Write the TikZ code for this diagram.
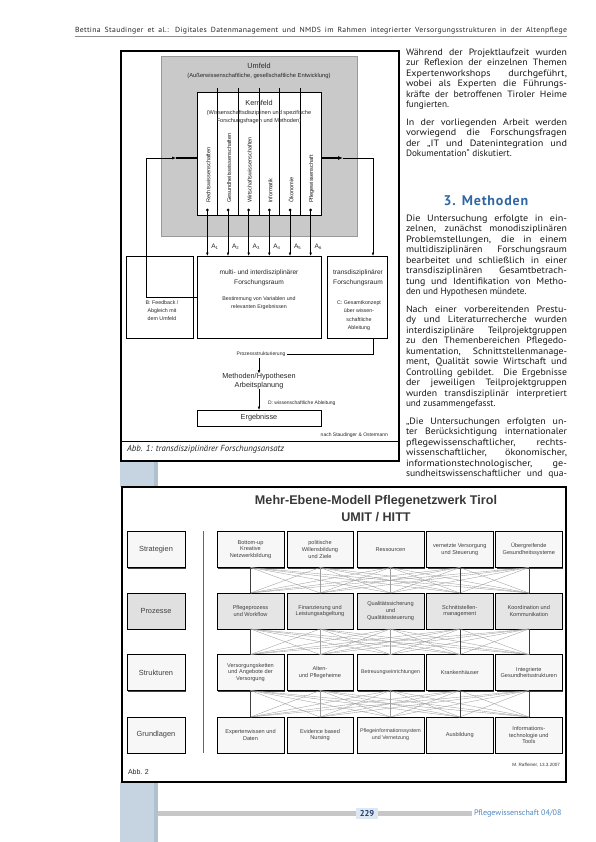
\documentclass[tikz,border=0pt]{standalone}
\usepackage{fontspec}
\usepackage{graphicx}
\setmainfont{Liberation Sans}
\newfontfamily\ptsans{PT Sans}
\usetikzlibrary{arrows.meta,shadows}
\definecolor{headblue}{HTML}{2F67A3}
\definecolor{footblue}{HTML}{4F86C0}
\definecolor{navy}{HTML}{1E3C6E}
\definecolor{stripc}{HTML}{C6D4E1}
\definecolor{stripd}{HTML}{AFC0D0}
\definecolor{pagebg}{HTML}{DDE8F2}
\newcommand\fsz[2]{\fontsize{#1}{#2}\selectfont}
\newsavebox\lnbox
\newlength\lnw
\newcommand\JT[2]{\sbox\lnbox{#2}\setlength\lnw{\wd\lnbox}%
  \ifdim\lnw<#1\relax\setlength\lnw{\dimexpr(\lnw+#1)/2\relax}\fi
  \resizebox{#1}{\height}{\makebox[\lnw][s]{#2}}}
\newcounter{lnc}
\newcommand\JL[2]{\stepcounter{lnc}\node[coltxt] (ln\arabic{lnc}) at (406,#1) {\JT{161pt}{#2}};}
\newcommand\LL[2]{\stepcounter{lnc}\node[coltxt] (ln\arabic{lnc}) at (406,#1) {#2};}
\newcommand\Asub[1]{A\raisebox{-0.8pt}{\fsz{4.2}{4.2}#1}}
\begin{document}
\begin{tikzpicture}[x=1pt,y=-1pt,
  every node/.style={inner sep=0pt,outer sep=0pt},
  coltxt/.style={anchor=base west, font=\ptsans\fsz{9.2}{10.4}, text=black!90},
  t5/.style={font=\fsz{5.3}{7.8}, align=center, text=black!85},
  t6/.style={font=\fsz{6.6}{10}, align=center, text=black!85},
  t7/.style={font=\fsz{7.3}{9}, align=center, text=black!85},
  bx/.style={draw=black, line width=0.6pt, fill=white},
  arr/.style={-{Latex[length=3.5pt,width=2.6pt]}, line width=0.5pt},
  box2/.style={draw=black, line width=0.5pt, fill=#1,
    drop shadow={shadow xshift=1.2pt, shadow yshift=-1.2pt, fill=black!75, opacity=1},
    align=center, font=\fsz{5.6}{6.8}, text=black!75,
    minimum width=66.5pt, minimum height=36pt},
  box2/.default=white,
  latt/.style={black!38, line width=0.35pt},
  lattv/.style={black!75, line width=0.5pt}
]
\useasboundingbox (0,0) rectangle (595,842);
\fill[white] (0,0) rectangle (595,842);

% ---------- header ----------
\node[anchor=base west, font=\ptsans\addfontfeature{LetterSpace=4}\fsz{7.4}{8}, text=black!85] (hdr) at (75,33)
  {\JT{492pt}{Bettina Staudinger et al.: Digitales Datenmanagement und NMDS im Rahmen integrierter Versorgungsstrukturen in der Altenpflege}};
\draw[black!45, line width=0.3pt] (75,36) -- (567,36);

% ---------- left strip ----------
\fill[stripc] (120,461) rectangle (158,487);
\fill[stripd] (154,461) rectangle (158,487);
\fill[stripc] (120,782) rectangle (158,842);
\fill[stripd] (154,782) rectangle (158,842);

% ---------- Figure 1 ----------
\draw[line width=1.8pt] (121,51) rectangle (399,461);
\draw[fill=black!21, draw=black!40, line width=0.5pt] (161,56) rectangle (357,236);
\node[t7] (umf) at (259,66) {Umfeld};
\node[font=\fsz{5.8}{6}, text=black!85] (umfs) at (259,76) {(Außerwissenschaftliche, gesellschaftliche Entwicklung)};
\node[bx, minimum width=124pt, minimum height=123pt] (kern) at (259,153.5) {};
\foreach \i in {1,...,5} \draw[line width=0.6pt] ({197+20.667*\i},88) -- ({197+20.667*\i},215);
\node[t7] (kt) at (259,103) {Kernfeld};
\node[font=\fsz{5.6}{8}, align=center, text=black!85] (kts) at (259,117) {(Wissenschaftsdisziplinen und spezifische\\Forschungsfragen und Methoden)};
\foreach \t [count=\i] in {Rechtswissenschaften, Gesundheitswissenschaften, Wirtschaftswissenschaften, Informatik, Ökonomie, Pflegewissenschaft}
  \node[font=\fsz{5.6}{6}, rotate=90, anchor=west, text=black!90] (cl\i) at ({197+20.667*(\i-0.5)+1},203) {\t};
\foreach \i in {1,...,6}
  \node[circle, fill=black, minimum size=3pt] (d\i) at ({197+20.667*(\i-0.5)},210) {};

\node[bx, minimum width=67pt, minimum height=82pt] (bb) at (159.5,297) {};
\node[bx, minimum width=124pt, minimum height=82pt] (multi) at (259,297) {};
\node[bx, minimum width=60pt, minimum height=82pt] (trans) at (357,297) {};

\foreach \i in {1,...,6} {
  \draw[arr] (d\i) -- (d\i |- multi.north);
  \node[font=\fsz{6.5}{7}, text=black!85, anchor=west] (a\i) at ({197+20.667*(\i-0.5)+4},247) {\Asub{\i}};
}

\node[t6] (mt) at (259,278) {multi- und interdisziplinärer\\Forschungsraum};
\node[t5] (mt2) at (259,303) {Bestimmung von Variablen und\\relevanten Ergebnissen};
\node[t6] (tt) at (358,278) {transdisziplinärer\\Forschungsraum};
\node[t5, font=\fsz{5.3}{8.3}] (tt2) at (359,315.5) {C: Gesamtkonzept\\über wissen-\\schaftliche\\Ableitung};
\node[t5, font=\fsz{5.3}{8}] (bt) at (162,311) {B: Feedback /\\Abgleich mit\\dem Umfeld};

\coordinate (fbL) at (146,158);
\coordinate (fbLm) at (176,158);
\draw[line width=0.5pt, -{Latex[length=4pt,width=3pt]}] (multi.west) -| (fbL) -- (fbLm);
\draw[line width=1.3pt] (fbLm) -- (fbLm -| kern.west);
\coordinate (fbR) at (373,158);
\coordinate (fbRm) at (343,158);
\draw[line width=1.3pt, -{Latex[length=5pt,width=4pt]}] (kern.east |- fbR) -- (fbRm);
\draw[arr] (fbRm) -- (fbR) -- (fbR |- trans.north);

\node[font=\fsz{5}{6}, text=black!85, inner sep=1.5pt] (proz) at (261,354) {Prozessstrukturierung};
\draw[line width=0.5pt] (fbR |- trans.south) |- (proz.east);
\node[t7] (meth) at (259,381.5) {Methoden/Hypothesen\\Arbeitsplanung};
\draw[arr] (meth.north |- proz.south) -- (meth.north);
\node[bx, minimum width=124pt, minimum height=16pt, font=\fsz{7.3}{8}, text=black!85] (erg) at (259,418) {Ergebnisse};
\draw[arr] (meth.south) -- (erg.north);
\node[font=\fsz{5}{6}, anchor=west, text=black!85] (dl) at (268,403) {D: wissenschaftliche Ableitung};
\node[font=\fsz{5}{6}, anchor=east, text=black!85] (nach) at (388,435) {nach Staudinger \& Ostermann};
\draw[line width=0.5pt] (121,441) -- (399,441);
\node[anchor=west, font=\ptsans\itshape\fsz{8.8}{9}, text=black!85] (cap1) at (127,449.5) {Abb. 1: transdisziplinärer Forschungsansatz};

% ---------- Figure 2 ----------
\draw[line width=1.8pt] (122,487) rectangle (566,782);
\node[font=\bfseries\fsz{12.6}{14}, text=black!78] (ti1) at (376,501) {Mehr-Ebene-Modell Pflegenetzwerk Tirol};
\node[font=\bfseries\fsz{12.6}{14}, text=black!78] (ti2) at (376,517) {UMIT / HITT};

\foreach \t/\y/\f [count=\i] in {Strategien/549.5/black!3, Prozesse/611/black!12, Strukturen/672.5/black!3, Grundlagen/735/black!3}
  \node[box2=\f, minimum width=58pt, font=\fsz{7.4}{8}] (lab\i) at (156,\y) {\t};
\draw[black!60, line width=0.7pt] (203,531) -- (203,753);

% row 1
\node[box2=black!3] (b1-1) at (250.5,549.5) {Bottom-up\\Kreative\\Netzwerkbildung};
\node[box2=black!3] (b1-2) at (320,549.5) {politische\\Willensbildung\\und Ziele};
\node[box2=black!3] (b1-3) at (390.5,549.5) {Ressourcen};
\node[box2=black!3] (b1-4) at (459.8,549.5) {vernetzte Versorgung\\und Steuerung};
\node[box2=black!3] (b1-5) at (528.8,549.5) {Übergreifende\\Gesundheitssysteme};
% row 2
\node[box2=black!10] (b2-1) at (250.5,611) {Pflegeprozess\\und Workflow};
\node[box2=black!10] (b2-2) at (320,611) {Finanzierung und\\Leistungsabgeltung};
\node[box2=black!10] (b2-3) at (390.5,611) {Qualitätssicherung\\und\\Qualitätssteuerung};
\node[box2=black!10] (b2-4) at (459.8,611) {Schnittstellen-\\management};
\node[box2=black!10] (b2-5) at (528.8,611) {Koordination und\\Kommunikation};
% row 3
\node[box2=black!3] (b3-1) at (250.5,672.5) {Versorgungsketten\\und Angebote der\\Versorgung};
\node[box2=black!3] (b3-2) at (320,672.5) {Alten-\\und Pflegeheime};
\node[box2=black!3, font=\fsz{5.3}{6.8}] (b3-3) at (390.5,672.5) {Betreuungseinrichtungen};
\node[box2=black!3] (b3-4) at (459.8,672.5) {Krankenhäuser};
\node[box2=black!3] (b3-5) at (528.8,672.5) {Integrierte\\Gesundheitsstrukturen};
% row 4
\node[box2=black!3] (b4-1) at (250.5,735) {Expertenwissen und\\Daten};
\node[box2=black!3] (b4-2) at (320,735) {Evidence based\\Nursing};
\node[box2=black!3, font=\fsz{5.3}{6.8}] (b4-3) at (390.5,735) {Pflegeinformationssystem\\und Vernetzung};
\node[box2=black!3] (b4-4) at (459.8,735) {Ausbildung};
\node[box2=black!3] (b4-5) at (528.8,735) {Informations-\\technologie und\\Tools};

\foreach \r/\s in {1/2,2/3,3/4} {
  \foreach \a in {1,...,5} {
    \foreach \b in {1,...,5} {
      \draw[latt] (b\r-\a.south) -- (b\s-\b.north);
    }
  }
  \foreach \a in {1,4,5} \draw[lattv] (b\r-\a.south) -- (b\s-\a.north);
}

\node[anchor=west, font=\fsz{7}{8}, text=black!85] (cap2) at (128,772) {Abb. 2};
\node[anchor=east, font=\fsz{4.6}{5}, text=black!80] (auth) at (560,765) {M. Raffeiner, 13.3.2007};

% ---------- right column text ----------
\JL{55.5}{Während der Projektlaufzeit wurden}
\JL{65.9}{zur Reflexion der einzelnen Themen}
\JL{76.4}{Expertenworkshops durchgeführt,}
\JL{86.8}{wobei als Experten die Führungs-}
\JL{97.2}{kräfte der betroffenen Tiroler Heime}
\LL{107.7}{fungierten.}
\JL{125.5}{In der vorliegenden Arbeit werden}
\JL{135.9}{vorwiegend die Forschungsfragen}
\JL{146.4}{der „IT und Datenintegration und}
\LL{156.8}{Dokumentation“ diskutiert.}

\node[anchor=base, font=\ptsans\bfseries\addfontfeature{LetterSpace=6}\fsz{14}{15}, text=headblue] (h3) at (486,205.5) {3. Methoden};

\JL{221.5}{Die Untersuchung erfolgte in ein-}
\JL{231.9}{zelnen, zunächst monodisziplinären}
\JL{242.4}{Problemstellungen, die in einem}
\JL{252.8}{multidisziplinären Forschungsraum}
\JL{263.2}{bearbeitet und schließlich in einer}
\JL{273.7}{transdisziplinären Gesamtbetrach-}
\JL{284.1}{tung und Identifikation von Metho-}
\LL{294.5}{den und Hypothesen mündete.}

\JL{312.5}{Nach einer vorbereitenden Prestu-}
\JL{322.9}{dy und Literaturrecherche wurden}
\JL{333.4}{interdisziplinäre Teilprojektgruppen}
\JL{343.8}{zu den Themenbereichen Pflegedo-}
\JL{354.2}{kumentation, Schnittstellenmanage-}
\JL{364.7}{ment, Qualität sowie Wirtschaft und}
\JL{375.1}{Controlling gebildet. Die Ergebnisse}
\JL{385.5}{der jeweiligen Teilprojektgruppen}
\JL{396.0}{wurden transdisziplinär interpretiert}
\LL{406.4}{und zusammengefasst.}

\JL{424.4}{„Die Untersuchungen erfolgten un-}
\JL{434.9}{ter Berücksichtigung internationaler}
\JL{445.3}{pflegewissenschaftlicher, rechts-}
\JL{455.7}{wissenschaftlicher, ökonomischer,}
\JL{466.2}{informationstechnologischer, ge-}
\JL{476.6}{sundheitswissenschaftlicher und qua-}

% ---------- footer ----------
\fill[black!22] (158,811) rectangle (472,816);
\node[fill=pagebg, inner xsep=4pt, inner ysep=2pt, font=\ptsans\bfseries\fsz{8.5}{9}, text=navy] (pg) at (367,813.5) {229};
\node[anchor=west, font=\ptsans\fsz{8}{9}, text=footblue] (jn) at (474,813.5) {Pflegewissenschaft 04/08};
\end{tikzpicture}
\end{document}
